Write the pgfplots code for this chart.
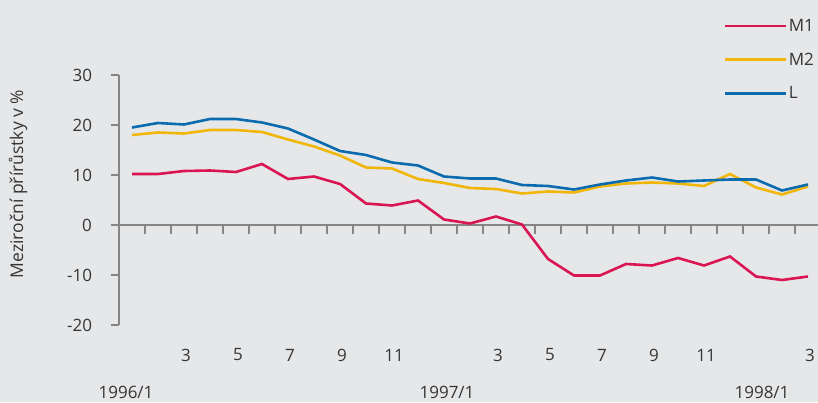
\documentclass[border=0pt]{standalone}
\usepackage{pgfplots}
\pgfplotsset{compat=1.18}
\usepackage{fontspec}
\setmainfont{Open Sans}
\definecolor{bg}{HTML}{E6E7E9}
\definecolor{axgray}{HTML}{858585}
\definecolor{txt}{HTML}{353535}
\definecolor{cM1}{HTML}{DA1652}
\definecolor{cM2}{HTML}{F0B70A}
\definecolor{cL}{HTML}{0A6BAE}
\begin{document}
\begin{tikzpicture}[x=1pt,y=1pt]
\useasboundingbox (0,0) rectangle (818,402);
\fill[bg] (0,0) rectangle (818,402);
\begin{axis}[
  at={(119pt,77pt)}, anchor=south west,
  scale only axis, width=699.4pt, height=250pt,
  xmin=-0.5, xmax=26.4, ymin=-20, ymax=30,
  axis x line=middle, axis y line=left,
  axis line style={-, axgray, line width=2.6pt},
  every inner x axis line/.append style={-},
  every outer y axis line/.append style={-},
  xtick={0.5,1.5,...,25.5}, xticklabels={},
  ytick={-20,-10,0,10,20,30},
  yticklabels={-20,-10,0,10,20,30},
  tick align=outside, major tick length=8.5pt,
  tick style={axgray, line width=2.6pt},
  yticklabel style={font=\fontsize{17}{20}\selectfont, text=txt, xshift=-15pt},
  clip=false,
  legend style={at={(0.865,1.232)}, anchor=north west, draw=none, fill=none,
    inner sep=0pt, row sep=16pt, font=\fontsize{17}{20}\selectfont, text=txt,
    cells={anchor=west}},
  legend image code/.code={\draw[#1] (0pt,0pt) -- (49pt,0pt); \path (0pt,0pt) -- (60pt,0pt);},
  legend cell align=left,
]
\addplot[cM1, line width=2.6pt] coordinates {
(0,10.2)(1,10.2)(2,10.8)(3,10.9)(4,10.6)(5,12.2)(6,9.2)(7,9.7)(8,8.2)(9,4.3)
(10,3.9)(11,4.9)(12,1.1)(13,0.3)(14,1.7)(15,0.1)(16,-6.8)(17,-10.1)(18,-10.1)
(19,-7.8)(20,-8.1)(21,-6.6)(22,-8.1)(23,-6.3)(24,-10.3)(25,-11.0)(26,-10.3)};
\addlegendentry{M1}
\addplot[cM2, line width=2.6pt] coordinates {
(0,18.0)(1,18.5)(2,18.3)(3,19.0)(4,19.0)(5,18.6)(6,17.1)(7,15.7)(8,13.9)(9,11.5)
(10,11.3)(11,9.2)(12,8.4)(13,7.4)(14,7.2)(15,6.3)(16,6.7)(17,6.5)(18,7.7)
(19,8.3)(20,8.5)(21,8.3)(22,7.8)(23,10.2)(24,7.5)(25,6.1)(26,7.7)};
\addlegendentry{M2}
\addplot[cL, line width=2.6pt] coordinates {
(0,19.5)(1,20.4)(2,20.1)(3,21.2)(4,21.2)(5,20.5)(6,19.3)(7,17.1)(8,14.8)(9,14.0)
(10,12.5)(11,11.9)(12,9.7)(13,9.3)(14,9.3)(15,8.0)(16,7.8)(17,7.1)(18,8.1)
(19,8.9)(20,9.5)(21,8.7)(22,8.9)(23,9.1)(24,9.1)(25,6.9)(26,8.1)};
\addlegendentry{L}
\foreach \i/\l in {2/3,4/5,6/7,8/9,10/11,14/3,16/5,18/7,20/9,22/11,26/3}{
  \edef\temp{\noexpand\node[text=txt, font=\noexpand\fontsize{17}{20}\noexpand\selectfont, anchor=center] at (axis cs:\i,-20) [yshift=-30pt, xshift=2pt] {\l};}
  \temp
}
\node[text=txt, font=\fontsize{17}{20}\selectfont] at (axis cs:0,-20) [yshift=-67pt, xshift=-6pt] {1996/1};
\node[text=txt, font=\fontsize{17}{20}\selectfont] at (axis cs:12,-20) [yshift=-67pt, xshift=3pt] {1997/1};
\node[text=txt, font=\fontsize{17}{20}\selectfont] at (axis cs:24,-20) [yshift=-67pt, xshift=6pt] {1998/1};
\end{axis}
\node[rotate=90, text=txt, font=\fontsize{17.5}{20}\selectfont] at (18,218) {Meziroční přírůstky v \%};
\end{tikzpicture}
\end{document}
